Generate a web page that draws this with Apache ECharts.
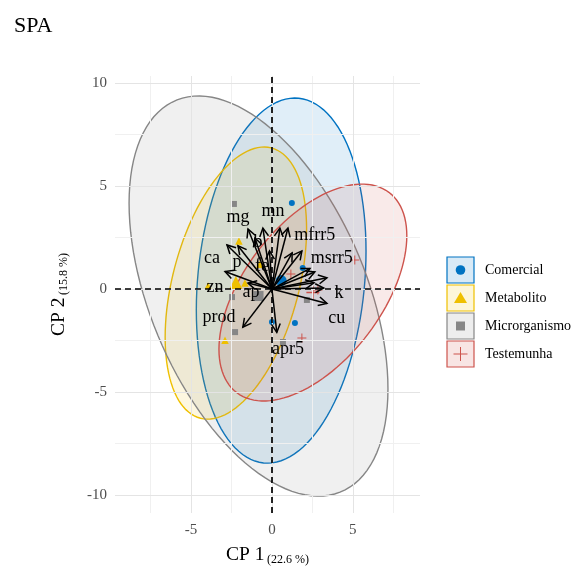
<!DOCTYPE html>
<html>
<head>
<meta charset="utf-8">
<script src="https://cdn.jsdelivr.net/npm/echarts@6/dist/echarts.min.js"></script>
<style>html,body{margin:0;padding:0;background:#fff}#c{width:576px;height:567px}</style>
</head>
<body>
<div id="c"></div>
<script>
// ---- data ----
const groups = ['Comercial', 'Metabolito', 'Microrganismo', 'Testemunha'];
const groupColors = ['#0073C2', '#EFC000', '#868686', '#CD534C'];

const comercialX = [1.23, 1.9, 0.0, 1.42];
const comercialY = [4.17, 1.02, -1.6, -1.65];
const metabolitoX = [-2.04, -3.95, -1.67, -2.9, -0.75];
const metabolitoY = [2.33, 0.15, 0.29, -2.48, 1.2];
const microrganismoX = [-2.35, -2.47, 2.16, -2.28, 0.68];
const microrganismoY = [4.13, -0.39, -0.53, -2.09, -2.57];
const testemunhaX = [5.12, 1.85, 1.17, 2.84];
const testemunhaY = [1.41, -2.38, 0.73, -0.05];

// group means (ellipse centres)
const meanX = [0.57, -2.23, -0.83, 2.53];
const meanY = [0.41, 0.29, -0.34, -0.17];
// ellipse covariance-like parameters
const ellSxx = [27.5, 19.1, 64.0, 33.7];
const ellSyy = [78.5, 43.6, 94.3, 27.7];
const ellSxy = [7.5, 11.5, -36.0, 16.0];

// variable arrows
const varNames = ['mg', '', 'mn', 'mfrr5', 'b', 'ca', 'p', 'fe', 'zn', 'ap', 'msrr5', '', '', '', '', 'k', '', 'cu', 'prod', 'apr5'];
const varX = [-1.48, -0.56, 0.49, 0.99, -1.05, -2.78, -2.1, -0.15, -2.9, -1.48, 1.85, 1.25, 2.35, 2.65, 3.4, 3.2, 2.6, 3.4, -1.8, 0.3];
const varY = [2.91, 2.96, 2.96, 2.96, 2.48, 2.14, 2.1, 1.85, 0.85, 0.29, 1.85, 1.75, 1.0, 0.83, 0.55, 0.05, 0.3, -0.7, -1.85, -2.1];
// repelled label anchors
const varLabelX = [-2.1, null, 0.06, 2.65, -0.86, -3.7, -2.16, -0.62, -3.52, -1.3, 3.7, null, null, null, null, 4.14, null, 4.0, -3.27, 0.99];
const varLabelY = [3.5, null, 3.79, 2.62, 2.28, 1.5, 1.31, 1.12, 0.1, -0.15, 1.5, null, null, null, null, -0.19, null, -1.41, -1.36, -2.91];

const xTicks = [-5, 0, 5];
const yTicks = [-10, -5, 0, 5, 10];
const xMinor = [-7.5, -2.5, 2.5, 7.5];
const yMinor = [-7.5, -2.5, 2.5, 7.5];
const xRange = [-9.7, 9.15];
const yRange = [-10.87, 10.34];

// ---- chart ----
const serif = 'Liberation Serif';
const groupX = [comercialX, metabolitoX, microrganismoX, testemunhaX];
const groupY = [comercialY, metabolitoY, microrganismoY, testemunhaY];
const plusPath = 'path://M0,4.45H10V5.55H0Z M4.45,0H5.55V10H4.45Z';
const symbols = ['circle', 'triangle', 'rect', plusPath];
const symSize = [6, 7.5, 6, 9];
const meanSize = [11, 14, 10, 13];

function hexA(h, a) {
  const r = parseInt(h.slice(1, 3), 16), g = parseInt(h.slice(3, 5), 16), b = parseInt(h.slice(5, 7), 16);
  return `rgba(${r},${g},${b},${a})`;
}

const series = [];

// gridlines
series.push({
  type: 'scatter', data: [], z: 0, silent: true,
  markLine: {
    silent: true, symbol: 'none', label: { show: false }, animation: false,
    data: [
      ...xMinor.map(v => ({ xAxis: v, lineStyle: { color: '#f0f0f0', width: 1, type: 'solid' } })),
      ...yMinor.map(v => ({ yAxis: v, lineStyle: { color: '#f0f0f0', width: 1, type: 'solid' } })),
      ...xTicks.map(v => ({ xAxis: v, lineStyle: { color: '#e4e4e4', width: 1, type: 'solid' } })),
      ...yTicks.map(v => ({ yAxis: v, lineStyle: { color: '#e4e4e4', width: 1, type: 'solid' } }))
    ]
  }
});

// ellipses
groups.forEach((g, gi) => {
  const L11 = Math.sqrt(ellSxx[gi]);
  const L21 = ellSxy[gi] / L11;
  const L22 = Math.sqrt(ellSyy[gi] - L21 * L21);
  series.push({
    type: 'custom', coordinateSystem: 'cartesian2d', silent: true, z: 1 + gi * 0.01,
    data: [[meanX[gi], meanY[gi]]], encode: { x: 0, y: 1 },
    renderItem: (params, api) => {
      const cx = api.value(0), cy = api.value(1);
      const pts = [];
      for (let k = 0; k <= 120; k++) {
        const t = 2 * Math.PI * k / 120;
        pts.push(api.coord([cx + L11 * Math.cos(t), cy + L21 * Math.cos(t) + L22 * Math.sin(t)]));
      }
      return { type: 'polygon', shape: { points: pts }, style: { fill: hexA(groupColors[gi], 0.12), stroke: groupColors[gi], lineWidth: 1.4 } };
    }
  });
});

// points
groups.forEach((g, gi) => {
  series.push({
    type: 'scatter', name: g, z: 3, silent: true,
    symbol: symbols[gi], symbolSize: symSize[gi],
    itemStyle: { color: groupColors[gi], opacity: 1 },
    data: groupX[gi].map((x, i) => [x, groupY[gi][i]])
  });
  series.push({
    type: 'scatter', z: 3, silent: true,
    symbol: symbols[gi], symbolSize: meanSize[gi],
    itemStyle: { color: groupColors[gi], opacity: 1 },
    data: [[meanX[gi], meanY[gi]]]
  });
});

// arrows
series.push({
  type: 'custom', coordinateSystem: 'cartesian2d', silent: true, z: 5,
  data: varX.map((x, i) => [x, varY[i]]), encode: { x: 0, y: 1 },
  renderItem: (params, api) => {
    const o = api.coord([0, 0]);
    const t = api.coord([api.value(0), api.value(1)]);
    const ang = Math.atan2(t[1] - o[1], t[0] - o[0]);
    const len = 9.5, sp = Math.PI / 6.5;
    const h1 = [t[0] - len * Math.cos(ang - sp), t[1] - len * Math.sin(ang - sp)];
    const h2 = [t[0] - len * Math.cos(ang + sp), t[1] - len * Math.sin(ang + sp)];
    return {
      type: 'group', children: [
        { type: 'line', shape: { x1: o[0], y1: o[1], x2: t[0], y2: t[1] }, style: { stroke: '#000', lineWidth: 1.5 } },
        { type: 'polyline', shape: { points: [h1, t, h2] }, style: { stroke: '#000', lineWidth: 1.5, fill: 'none' } }
      ]
    };
  }
});

// arrow labels
const labelIdx = varNames.map((n, i) => i).filter(i => varNames[i] !== '');
series.push({
  type: 'custom', coordinateSystem: 'cartesian2d', silent: true, z: 6,
  data: labelIdx.map(i => [varLabelX[i], varLabelY[i]]), encode: { x: 0, y: 1 },
  renderItem: (params, api) => {
    const p = api.coord([api.value(0), api.value(1)]);
    return {
      type: 'text', x: p[0], y: p[1],
      style: { text: varNames[labelIdx[params.dataIndex]], fontSize: 18, fontFamily: serif, fill: '#000', align: 'center', verticalAlign: 'middle' }
    };
  }
});

// dashed reference lines
series.push({
  type: 'scatter', data: [], z: 10, silent: true,
  markLine: {
    silent: true, symbol: 'none', label: { show: false }, animation: false,
    lineStyle: { color: '#000', width: 1.7, type: [6, 4] },
    data: [{ xAxis: 0 }, { yAxis: 0 }]
  }
});

// legend drawn as graphic
const legendEls = [];
groups.forEach((g, gi) => {
  const top = 257 + gi * 28, cx = 460.5, cy = top + 13;
  const c = groupColors[gi];
  legendEls.push({ type: 'rect', shape: { x: 447, y: top, width: 27, height: 26 }, style: { fill: hexA(c, 0.15), stroke: c, lineWidth: 1.2 } });
  if (gi === 0) legendEls.push({ type: 'circle', shape: { cx, cy, r: 4.8 }, style: { fill: c } });
  if (gi === 1) legendEls.push({ type: 'polygon', shape: { points: [[cx, cy - 6], [cx + 6.5, cy + 5], [cx - 6.5, cy + 5]] }, style: { fill: c } });
  if (gi === 2) legendEls.push({ type: 'rect', shape: { x: cx - 4.5, y: cy - 4.5, width: 9, height: 9 }, style: { fill: c } });
  if (gi === 3) {
    legendEls.push({ type: 'line', shape: { x1: cx - 7, y1: cy, x2: cx + 7, y2: cy }, style: { stroke: c, lineWidth: 1 } });
    legendEls.push({ type: 'line', shape: { x1: cx, y1: cy - 7, x2: cx, y2: cy + 7 }, style: { stroke: c, lineWidth: 1 } });
  }
  legendEls.push({ type: 'text', x: 485, y: cy, style: { text: g, fontSize: 14, fontFamily: serif, fill: '#000', verticalAlign: 'middle' } });
});

const chart = echarts.init(document.getElementById('c'), null, { renderer: 'canvas' });
chart.setOption({
  animation: false,
  backgroundColor: '#fff',
  title: { text: 'SPA', left: 9, top: 10, textStyle: { fontFamily: serif, fontSize: 22, fontWeight: 'normal', color: '#000' } },
  grid: { left: 115, right: 156, top: 76, bottom: 54, containLabel: false, outerBoundsMode: 'none' },
  xAxis: {
    type: 'value', min: xRange[0], max: xRange[1],
    axisLine: { show: false }, axisTick: { show: false }, splitLine: { show: false },
    axisLabel: { customValues: xTicks, color: '#4d4d4d', fontSize: 15, fontFamily: serif, margin: 10 },
    name: '{a|CP 1}{s| }{b|(22.6 %)}', nameLocation: 'middle', nameGap: 31,
    nameTextStyle: { rich: {
      a: { fontSize: 19.5, fontFamily: serif, color: '#000', lineHeight: 22 },
      s: { fontSize: 10, fontFamily: serif, lineHeight: 22 },
      b: { fontSize: 12, fontFamily: serif, color: '#000', lineHeight: 10, verticalAlign: 'bottom' }
    } }
  },
  yAxis: {
    type: 'value', min: yRange[0], max: yRange[1],
    axisLine: { show: false }, axisTick: { show: false }, splitLine: { show: false },
    axisLabel: { customValues: yTicks, color: '#4d4d4d', fontSize: 15, fontFamily: serif, margin: 8 },
    name: '{a|CP 2}{s| }{b|(15.8 %)}', nameLocation: 'middle', nameGap: 45,
    nameTextStyle: { rich: {
      a: { fontSize: 19.5, fontFamily: serif, color: '#000', lineHeight: 22 },
      s: { fontSize: 10, fontFamily: serif, lineHeight: 22 },
      b: { fontSize: 12, fontFamily: serif, color: '#000', lineHeight: 10, verticalAlign: 'bottom' }
    } }
  },
  graphic: { elements: legendEls },
  series
});
</script>
</body>
</html>
